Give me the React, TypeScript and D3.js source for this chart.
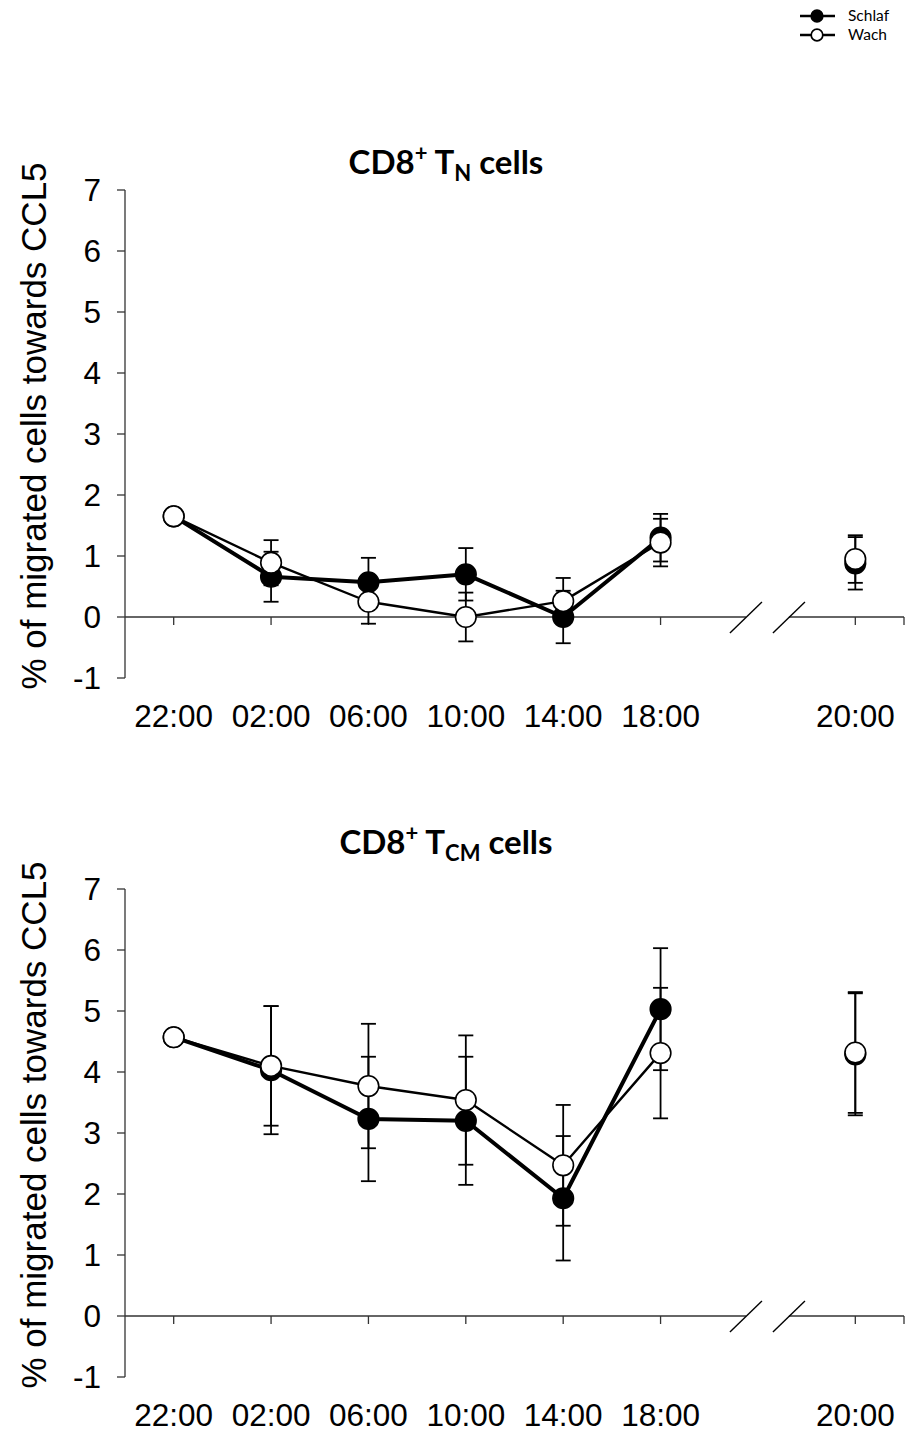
import React from "react";
import * as d3 from "d3";

// ---- data ----
const slots = ["22:00", "02:00", "06:00", "10:00", "14:00", "18:00", "gap", "20:00"];
const timeLabels = ["22:00", "02:00", "06:00", "10:00", "14:00", "18:00", "20:00"];
const yTicks = [-1, 0, 1, 2, 3, 4, 5, 6, 7];
const seriesNames = ["Schlaf", "Wach"];

const tnSchlafMean = [1.65, 0.66, 0.57, 0.7, 0.0, 1.3, 0.88];
const tnSchlafSem = [0, 0.41, 0.4, 0.43, 0.43, 0.39, 0.43];
const tnWachMean = [1.65, 0.89, 0.25, 0.0, 0.26, 1.22, 0.95];
const tnWachSem = [0, 0.37, 0.36, 0.4, 0.38, 0.39, 0.39];

const tcmSchlafMean = [4.57, 4.03, 3.23, 3.2, 1.93, 5.03, 4.29];
const tcmSchlafSem = [0, 1.05, 1.02, 1.05, 1.02, 1.0, 1.0];
const tcmWachMean = [4.57, 4.1, 3.77, 3.54, 2.47, 4.31, 4.32];
const tcmWachSem = [0, 0.98, 1.02, 1.06, 0.99, 1.07, 0.99];

const yTitle = "% of migrated cells towards CCL5";

const panels = [
  { sub: "N", top: 190, bottom: 678, titleY: 174, schlaf: [tnSchlafMean, tnSchlafSem], wach: [tnWachMean, tnWachSem] },
  { sub: "CM", top: 889, bottom: 1377, titleY: 854, schlaf: [tcmSchlafMean, tcmSchlafSem], wach: [tcmWachMean, tcmWachSem] },
];

const AX_LEFT = 125;
const AX_RIGHT = 904;
const numFont = "'Liberation Sans', Arial, sans-serif";
const titleFont = "Lato, 'Open Sans', sans-serif";

function Panel({ p }: { p: any }) {
  const x = d3.scaleBand().domain(slots).range([AX_LEFT, AX_RIGHT]).paddingInner(0).paddingOuter(0);
  const cx = (i: number) => (x(timeLabels[i]) as number) + x.bandwidth() / 2;
  const y = d3.scaleLinear().domain([-1, 7]).range([p.bottom, p.top]);
  const y0 = y(0);
  const gapX = (x("gap") as number) + x.bandwidth() / 2;
  const b1 = gapX - 12;
  const b2 = gapX + 31;

  const lineIdx = [0, 1, 2, 3, 4, 5];

  const series = [
    { name: seriesNames[0], mean: p.schlaf[0], sem: p.schlaf[1], fill: "#000", lw: 4 },
    { name: seriesNames[1], mean: p.wach[0], sem: p.wach[1], fill: "#fff", lw: 2.4 },
  ];

  const pathFor = (s: any) =>
    d3
      .line<number>()
      .x((i) => cx(i))
      .y((i) => y(s.mean[i]))(lineIdx) as string;

  const cap = 7.5;
  const cy = (p.top + p.bottom) / 2 - 8;

  return (
    <g>
      {/* title */}
      <text
        x={446}
        y={p.titleY}
        textAnchor="middle"
        fontFamily={titleFont}
        fontWeight={700}
        fontSize={33}
        fill="#000"
      >
        CD8
        <tspan fontSize={22} dy={-13}>+</tspan>
        <tspan dy={13}> T</tspan>
        <tspan fontSize={22} dy={7}>{p.sub}</tspan>
        <tspan dy={-7}> cells</tspan>
      </text>

      {/* y-axis title */}
      <text
        transform={`translate(33,${cy}) rotate(-90)`}
        textAnchor="middle"
        dominantBaseline="central"
        fontFamily={numFont}
        fontSize={35}
        fill="#000"
      >
        {yTitle}
      </text>

      {/* y axis */}
      <line x1={AX_LEFT} x2={AX_LEFT} y1={y(-1)} y2={y(7)} stroke="#333" strokeWidth={1.3} />
      {yTicks.map((t) => (
        <g key={t}>
          <line x1={AX_LEFT - 8} x2={AX_LEFT} y1={y(t)} y2={y(t)} stroke="#333" strokeWidth={1.3} />
          <text
            x={101}
            y={y(t)}
            dy="0.36em"
            textAnchor="end"
            fontFamily={numFont}
            fontSize={31.5}
            fill="#000"
          >
            {t}
          </text>
        </g>
      ))}

      {/* x axis with break */}
      <line x1={AX_LEFT} x2={b1} y1={y0} y2={y0} stroke="#333" strokeWidth={1.3} />
      <line x1={b2} x2={AX_RIGHT} y1={y0} y2={y0} stroke="#333" strokeWidth={1.3} />
      {[b1, b2].map((bx, k) => (
        <line key={k} x1={bx - 16} y1={y0 + 16} x2={bx + 16} y2={y0 - 15} stroke="#000" strokeWidth={1.4} />
      ))}
      {timeLabels.map((t, i) => (
        <line key={t} x1={cx(i)} x2={cx(i)} y1={y0} y2={y0 + 8} stroke="#333" strokeWidth={1.3} />
      ))}
      <line x1={AX_RIGHT} x2={AX_RIGHT} y1={y0} y2={y0 + 8} stroke="#333" strokeWidth={1.3} />
      {timeLabels.map((t, i) => (
        <text
          key={t}
          x={cx(i)}
          y={p.bottom + 49}
          textAnchor="middle"
          fontFamily={numFont}
          fontSize={31.5}
          fill="#000"
        >
          {t}
        </text>
      ))}

      {/* error bars */}
      {series.map((s) =>
        s.mean.map((m: number, i: number) =>
          s.sem[i] > 0 ? (
            <g key={s.name + i} stroke="#000" strokeWidth={1.8}>
              <line x1={cx(i)} x2={cx(i)} y1={y(m - s.sem[i])} y2={y(m + s.sem[i])} />
              <line x1={cx(i) - cap} x2={cx(i) + cap} y1={y(m + s.sem[i])} y2={y(m + s.sem[i])} />
              <line x1={cx(i) - cap} x2={cx(i) + cap} y1={y(m - s.sem[i])} y2={y(m - s.sem[i])} />
            </g>
          ) : null
        )
      )}

      {/* lines (Wach under, Schlaf over) */}
      <path d={pathFor(series[1])} fill="none" stroke="#000" strokeWidth={series[1].lw} strokeLinejoin="round" />
      <path d={pathFor(series[0])} fill="none" stroke="#000" strokeWidth={series[0].lw} strokeLinejoin="round" />

      {/* markers */}
      {series.map((s) =>
        s.mean.map((m: number, i: number) => (
          <circle key={"m" + s.name + i} cx={cx(i)} cy={y(m)} r={10.3} fill={s.fill} stroke="#000" strokeWidth={1.6} />
        ))
      )}
    </g>
  );
}

function Legend() {
  const items = [
    { name: seriesNames[0], fill: "#000", y: 16 },
    { name: seriesNames[1], fill: "#fff", y: 35 },
  ];
  return (
    <g>
      {items.map((it) => (
        <g key={it.name}>
          <line x1={800} x2={835} y1={it.y} y2={it.y} stroke="#000" strokeWidth={2.6} />
          <circle cx={817} cy={it.y} r={5.8} fill={it.fill} stroke="#000" strokeWidth={1.7} />
          <text x={848} y={it.y} dy="0.35em" fontFamily="Lato, 'Open Sans', sans-serif" fontSize={15.5} fill="#000">
            {it.name}
          </text>
        </g>
      ))}
    </g>
  );
}

export default function App() {
  return (
    <svg
      width={910}
      height={1434}
      viewBox="0 0 910 1434"
      style={{ position: "absolute", left: 0, top: 0, background: "#fff" }}
    >
      <rect x={0} y={0} width={910} height={1434} fill="#fff" />
      <Legend />
      {panels.map((p, k) => (
        <Panel key={k} p={p} />
      ))}
    </svg>
  );
}
